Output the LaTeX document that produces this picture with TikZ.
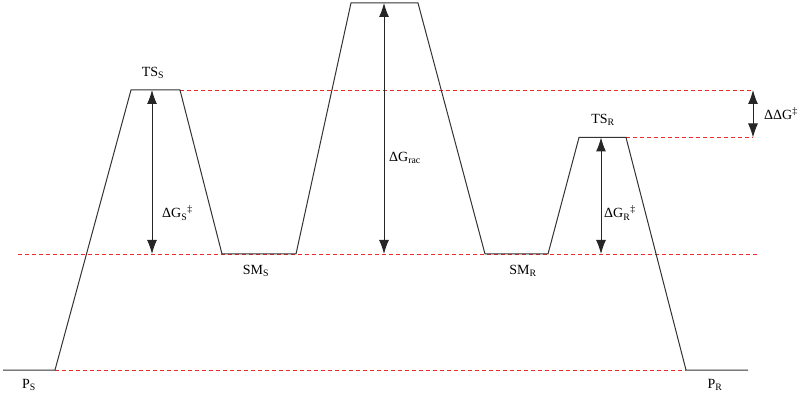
\documentclass[tikz,border=0pt]{standalone}
\usepackage{fontspec}
\setmainfont{Liberation Serif}
\usetikzlibrary{arrows.meta}
\definecolor{guidered}{RGB}{240,40,40}
\tikzset{
  profile/.style={draw=black!80, line width=1pt},
  guide/.style={draw=guidered, line width=0.9pt, dash pattern=on 3.5pt off 3.5pt},
  gap/.style={draw=black!85, line width=1pt, {Latex[length=14pt,width=10pt]}-{Latex[length=14pt,width=10pt]}},
  lbl/.style={font=\fontsize{14}{16}\selectfont, inner sep=1pt},
}
\begin{document}
\begin{tikzpicture}[x=1pt,y=-1pt]
\useasboundingbox (0,0) rectangle (800,403);
% profile points
\coordinate (a0) at (3,370);
\coordinate (a1) at (55,370);
\coordinate (a2) at (131,90);
\coordinate (a3) at (180,90);
\coordinate (a4) at (222,254);
\coordinate (a5) at (296,254);
\coordinate (a6) at (351,3);
\coordinate (a7) at (418,3);
\coordinate (a8) at (485,254);
\coordinate (a9) at (548,254);
\coordinate (a10) at (579,137.5);
\coordinate (a11) at (626,137.5);
\coordinate (a12) at (686,370);
\coordinate (a13) at (748,370);
% guide ends
\coordinate (g1) at (753,90);
\coordinate (g2) at (753,137.5);
\coordinate (g3l) at (18,254);
\coordinate (g3r) at (758,254);
% arrow ends
\coordinate (sTop) at (152,90);
\coordinate (sBot) at (152,254);
\coordinate (rcTop) at (384,3);
\coordinate (rcBot) at (384,254);
\coordinate (rTop) at (601,137.5);
\coordinate (rBot) at (601,254);

\draw[guide] (a3) -- (g1);
\draw[guide] (a11) -- (g2);
\draw[guide] (g3l) -- (g3r);
\draw[guide] (a1) -- (a12);

\draw[profile] (a0) -- (a1) -- (a2) -- (a3) -- (a4) -- (a5) -- (a6) -- (a7) -- (a8) -- (a9) -- (a10) -- (a11) -- (a12) -- (a13);

\draw[gap] (sBot) -- (sTop);
\draw[gap] (rcBot) -- (rcTop);
\draw[gap] (rBot) -- (rTop);
\draw[gap] (g2) -- (g1);

\node[lbl] (tss) at (153,73) {TS\textsubscript{S}};
\node[lbl] (tsr) at (603,120) {TS\textsubscript{R}};
\node[lbl] (sms) at (256,271) {SM\textsubscript{S}};
\node[lbl] (smr) at (523,271) {SM\textsubscript{R}};
\node[lbl] (ps) at (29,385) {P\textsubscript{S}};
\node[lbl] (pr) at (715,385) {P\textsubscript{R}};
\node[lbl, anchor=west] (dgs) at (161,213) {ΔG\textsubscript{S}\textsuperscript{‡}};
\node[lbl, anchor=west] (dgrac) at (388,158) {ΔG\textsubscript{rac}};
\node[lbl, anchor=west] (dgr) at (603,213) {ΔG\textsubscript{R}\textsuperscript{‡}};
\node[lbl, anchor=west] (ddg) at (763,114) {ΔΔG\textsuperscript{‡}};
\end{tikzpicture}
\end{document}
